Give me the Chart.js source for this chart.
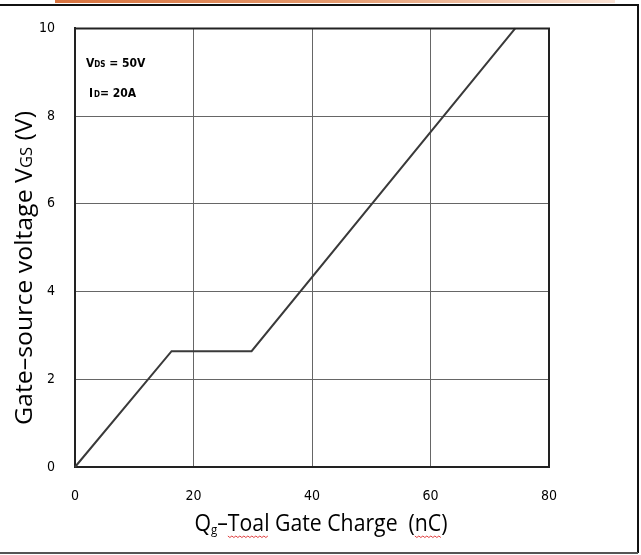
<!DOCTYPE html>
<html>
<head>
<meta charset="utf-8">
<script src="https://cdn.jsdelivr.net/npm/chart.js@4/dist/chart.umd.min.js"></script>
<style>
	html, body { margin: 0; padding: 0; background: #fff; }
	#wrap { width: 641px; height: 555px; position: relative; }
</style>
</head>
<body>
<div id="wrap"><canvas id="graficoCarga" width="641" height="555"></canvas></div>
<script>
// dados
var cargaNc = [0, 16.3, 29.8, 74.3]
var tensaoVgs = [0, 2.64, 2.64, 10]
var ticksX = [0, 20, 40, 60, 80]
var ticksY = [0, 2, 4, 6, 8, 10]

var fonteNarrow = '"Liberation Sans Narrow", "DejaVu Sans Condensed", sans-serif'
var fonteTitulo = '"Open Sans", "Noto Sans", sans-serif'

// escreve pedacos de texto (normal / subscrito) em sequencia, comprimindo para caber na largura
function escreveTexto(ctx, partes, xCentro, yBase, larguraAlvo) {
	var total = 0
	partes.forEach(function (p) {
		ctx.font = p.size + 'px ' + fonteTitulo
		p.w = ctx.measureText(p.t).width
		total += p.w
	})
	var esc = larguraAlvo ? larguraAlvo / total : 1
	ctx.save()
	ctx.translate(xCentro - total * esc / 2, yBase)
	ctx.scale(esc, 1)
	var x = 0
	partes.forEach(function (p) {
		ctx.font = p.size + 'px ' + fonteTitulo
		ctx.fillText(p.t, x, p.dy || 0)
		p.x = x * esc + xCentro - total * esc / 2
		p.ws = p.w * esc
		x += p.w
	})
	ctx.restore()
	return partes
}

// moldura, faixa laranja, titulos e anotacoes
var extras = {
	id: 'extras',
	beforeDraw: function (chart) {
		var ctx = chart.ctx
		ctx.save()
		ctx.fillStyle = '#fff'
		ctx.fillRect(0, 0, chart.width, chart.height)
		var grad = ctx.createLinearGradient(55, 0, 615, 0)
		grad.addColorStop(0, '#d8733f')
		grad.addColorStop(0.5, '#e59a6e')
		grad.addColorStop(1, '#fbe3d5')
		ctx.fillStyle = grad
		ctx.fillRect(55, 0, 560, 3)
		ctx.restore()
	},
	afterDraw: function (chart) {
		var ctx = chart.ctx
		ctx.save()
		ctx.strokeStyle = '#111'
		ctx.lineWidth = 2
		ctx.beginPath()
		ctx.moveTo(0, 5)
		ctx.lineTo(638, 5)
		ctx.lineTo(638, 553)
		ctx.stroke()
		ctx.strokeStyle = '#555'
		ctx.beginPath()
		ctx.moveTo(0, 553)
		ctx.lineTo(638, 553)
		ctx.stroke()

		// titulo eixo x
		ctx.fillStyle = '#000'
		ctx.textBaseline = 'alphabetic'
		var px = escreveTexto(ctx, [
			{ t: 'Q', size: 24 },
			{ t: 'g', size: 13, dy: 3 },
			{ t: '\u2013', size: 24 },
			{ t: 'Toal', size: 24 },
			{ t: ' Gate Charge  (', size: 24 },
			{ t: 'nC', size: 24 },
			{ t: ')', size: 24 },
		], 321, 531, 253)

		// sublinhado ondulado vermelho (corretor)
		ctx.strokeStyle = '#e04040'
		ctx.lineWidth = 1
		;[px[3], px[5]].forEach(function (s) {
			ctx.beginPath()
			for (var i = 0; i <= s.ws; i += 2) {
				var yy = 536 + (i % 4 === 0 ? 0 : 1.5)
				if (i === 0) ctx.moveTo(s.x + i, yy)
				else ctx.lineTo(s.x + i, yy)
			}
			ctx.stroke()
		})

		// titulo eixo y
		ctx.save()
		ctx.translate(32, 268)
		ctx.rotate(-Math.PI / 2)
		escreveTexto(ctx, [
			{ t: 'Gate\u2013source voltage V', size: 24 },
			{ t: 'GS', size: 16 },
			{ t: ' (V)', size: 24 },
		], 0, 0, 314)
		ctx.restore()
		ctx.restore()

		// anotacoes
		ctx.save()
		ctx.fillStyle = '#000'
		ctx.font = 'bold 12px ' + fonteNarrow
		ctx.fillText('V', 86, 67)
		var wv = ctx.measureText('V').width
		ctx.font = 'bold 8px ' + fonteNarrow
		ctx.fillText('DS', 86 + wv, 67)
		var wds = ctx.measureText('DS').width
		ctx.font = 'bold 12px ' + fonteNarrow
		ctx.fillText(' = 50V', 86 + wv + wds, 67)
		ctx.fillText('I', 89, 97)
		var wi = ctx.measureText('I').width
		ctx.font = 'bold 8px ' + fonteNarrow
		ctx.fillText('D', 89 + wi + 1, 97)
		var wd = ctx.measureText('D').width
		ctx.font = 'bold 12px ' + fonteNarrow
		ctx.fillText('= 20A', 90 + wi + wd, 97)
		ctx.restore()
	}
}

var pontos = []
for (var i = 0; i < cargaNc.length; i++) {
	pontos.push({ x: cargaNc[i], y: tensaoVgs[i] })
}

var configChart = {
	type: 'scatter',
	data: {
		datasets: [{
			data: pontos,
			showLine: true,
			borderColor: '#3a3a3a',
			borderWidth: 2,
			pointRadius: 0,
			fill: false,
			clip: 4,
		}]
	},
	options: {
		responsive: false,
		animation: false,
		layout: { padding: { left: 0, right: 92, top: 27, bottom: 0 } },
		plugins: {
			legend: { display: false },
			tooltip: { enabled: false },
		},
		scales: {
			x: {
				type: 'linear',
				min: 0,
				max: 80,
				afterFit: function (s) { s.height = 88 },
				afterBuildTicks: function (s) { s.ticks = ticksX.map(function (v) { return { value: v } }) },
				ticks: { color: '#000', padding: 21, font: { family: fonteNarrow, size: 14 } },
				grid: { color: '#666', lineWidth: 1, drawTicks: false },
				border: { color: '#222', width: 2 },
			},
			y: {
				type: 'linear',
				min: 0,
				max: 10,
				afterFit: function (s) { s.width = 75 },
				afterBuildTicks: function (s) { s.ticks = ticksY.map(function (v) { return { value: v } }) },
				ticks: { color: '#000', padding: 20, font: { family: fonteNarrow, size: 14 } },
				grid: { color: '#666', lineWidth: 1, drawTicks: false },
				border: { color: '#222', width: 2 },
			}
		}
	},
	plugins: [extras, {
		id: 'bordaTopo',
		afterDatasetsDraw: function (chart) {
			var a = chart.chartArea
			var ctx = chart.ctx
			ctx.save()
			ctx.strokeStyle = '#222'
			ctx.lineWidth = 2
			ctx.beginPath()
			ctx.moveTo(a.left, a.top)
			ctx.lineTo(a.right, a.top)
			ctx.lineTo(a.right, a.bottom)
			ctx.stroke()
			ctx.restore()
		}
	}]
}

var ctx333 = document.getElementById('graficoCarga').getContext('2d')
window.graficoCarga = new Chart(ctx333, configChart)
</script>
</body>
</html>
